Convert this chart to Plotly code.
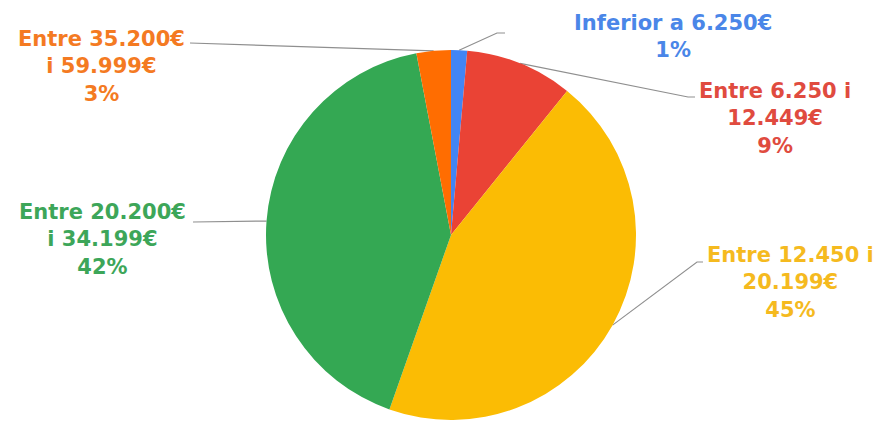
import math
import plotly.graph_objects as go

# ---- data ----
categories = ["Inferior a 6.250€", "Entre 6.250 i<br>12.449€", "Entre 12.450 i<br>20.199€",
              "Entre 20.200€<br>i 34.199€", "Entre 35.200€<br>i 59.999€"]
values = [1.4, 9.4, 44.6, 41.6, 3.0]
colors = ["#4285F4", "#EA4335", "#FBBC04", "#34A853", "#FF6D01"]
text_colors = ["#4A86E8", "#E04B3F", "#F5BA1F", "#3DA659", "#F47A22"]

# ---- layout geometry (pixels) ----
W, H = 879, 427
CX, CY, R = 451, 235, 185
label_pos = [(673, 36), (775, 118), (790, 282), (102, 239), (101, 66)]
elbows = [[(497, 33), (505, 33)], [(688, 97), (695, 97)], [(697, 262), (703, 262)],
          [(193, 222)], [(190, 43)]]

fig = go.Figure()
fig.add_trace(go.Pie(
    values=values, labels=[c.replace("<br>", " ") for c in categories],
    marker=dict(colors=colors, line=dict(width=0)),
    sort=False, direction="clockwise", rotation=0,
    textinfo="none", hoverinfo="label+percent", showlegend=False,
    domain=dict(x=[(CX - R) / W, (CX + R) / W], y=[1 - (CY + R) / H, 1 - (CY - R) / H]),
))

total = sum(values)
cum = 0.0
for i, v in enumerate(values):
    mid = (cum + v / 2) / total * 2 * math.pi
    cum += v
    ex, ey = CX + R * math.sin(mid), CY - R * math.cos(mid)
    pts = [(ex, ey)] + elbows[i]
    fig.add_trace(go.Scatter(x=[p[0] for p in pts], y=[p[1] for p in pts], mode="lines",
                             line=dict(color="#8F8F8F", width=1.2), hoverinfo="skip",
                             showlegend=False))
    pct = round(v / total * 100)
    fig.add_annotation(x=label_pos[i][0], y=label_pos[i][1], xref="x", yref="y",
                       text=f"{categories[i]}<br>{pct}%", showarrow=False,
                       xanchor="center", yanchor="middle", align="center",
                       font=dict(family="DejaVu Sans", size=21, color=text_colors[i]))

fig.update_layout(
    width=W, height=H, margin=dict(l=0, r=0, t=0, b=0),
    paper_bgcolor="white", plot_bgcolor="rgba(0,0,0,0)",
    xaxis=dict(range=[0, W], visible=False, fixedrange=True),
    yaxis=dict(range=[H, 0], visible=False, fixedrange=True),
)
for a in fig.layout.annotations:
    a.text = "<b>" + a.text.replace("<br>", "</b><br><b>") + "</b>"

fig.write_html("out.html")
